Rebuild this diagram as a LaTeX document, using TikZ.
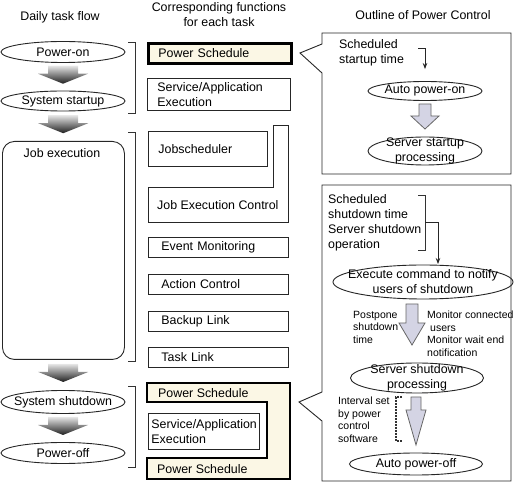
\documentclass[tikz,border=0pt]{standalone}
\usepackage{fontspec}
\setmainfont{Liberation Sans}
\usetikzlibrary{calc,shapes.geometric,arrows.meta}
\definecolor{cream}{RGB}{251,247,229}
\definecolor{blkfill}{RGB}{212,212,228}
\newcommand\blkarrow[6]{%
  \draw[blkst] (#1-#5,#2) -- (#1+#5,#2) -- (#1+#5,#3) -- (#1+#6,#3) -- (#1,#4) -- (#1-#6,#3) -- (#1-#5,#3) -- cycle;}
\newcommand\gradarrow[2]{%
  \shade[top color=black!10, bottom color=black!88]
    ($(#1.south)!.5!(#2.north)+(-15,-11)$) -- ($(#1.south)!.5!(#2.north)+(15,-11)$) --
    ($(#1.south)!.5!(#2.north)+(15,-3)$) -- ($(#1.south)!.5!(#2.north)+(25,-3)$) --
    ($(#1.south)!.5!(#2.north)+(0,7)$) -- ($(#1.south)!.5!(#2.north)+(-25,-3)$) --
    ($(#1.south)!.5!(#2.north)+(-15,-3)$) -- cycle;}
\begin{document}
\begin{tikzpicture}[x=1pt,y=-1pt,
  font=\fontsize{12.4}{15}\selectfont,
  ell/.style={draw=black!85, ellipse, line width=0.9pt, inner sep=0pt},
  fbox/.style={draw=black!85, line width=0.9pt, anchor=north west, align=left, inner xsep=10pt, inner ysep=0pt},
  thickbox/.style={draw=black, line width=2.8pt, fill=cream},
  brk/.style={draw=black!80, line width=0.9pt},
  txt/.style={inner sep=0pt, align=left, anchor=north west},
  small/.style={font=\fontsize{10.5}{12.5}\selectfont},
  callout/.style={draw=black!85, line width=0.9pt, fill=white},
  blkst/.style={draw=black!60, line width=0.8pt, fill=blkfill},
  arr/.style={draw=black!85, line width=0.8pt, -{Stealth[length=6pt,width=4.5pt]}}]
\useasboundingbox (0,0) rectangle (515,486);

% headers
\node (h1) at (60,17) {Daily task flow};
\node[align=center] (h2) at (219,15) {Corresponding functions\\for each task};
\node (h3) at (423,15) {Outline of Power Control};

% left column
\node[ell, minimum width=124pt, minimum height=21pt] (po) at (63,52) {};
\node at (po) {Power-on};
\node[ell, minimum width=124pt, minimum height=20pt] (ss) at (63,101) {};
\node at (ss) {System startup};
\node[draw=black!85, line width=0.9pt, rounded corners=12pt, minimum width=122pt, minimum height=218pt, anchor=north west, inner sep=0pt] (je) at (2,141) {};
\node at (62,153) {Job execution};
\node[ell, minimum width=124pt, minimum height=23pt] (sd) at (63,402) {};
\node at (sd) {System shutdown};
\node[ell, minimum width=124pt, minimum height=21pt] (pf) at (63,453) {};
\node at (pf) {Power-off};
\gradarrow{po}{ss}
\gradarrow{ss}{je}
\gradarrow{je}{sd}
\gradarrow{sd}{pf}

% brackets
\draw[brk] (128,42) -- (135,42) -- (135,113) -- (128,113);
\draw[brk] (128,132) -- (135,132) -- (135,361) -- (128,361);
\draw[brk] (128,386) -- (135,386) -- (135,467) -- (128,467);

% middle column
\node[fbox, thickbox, text width=123pt, minimum height=20pt] (ps1) at (147,42) {Power Schedule};
\node[fbox, text width=123pt, minimum height=32pt] (sa1) at (147,78) {Service/Application\\Execution};
\node[fbox, text width=99pt, minimum height=35pt] (js) at (148,131) {Jobscheduler};
\draw[draw=black!85, line width=0.9pt] (148,187) -- (273,187) -- (273,125) -- (288,125) -- (288,222) -- (148,222) -- cycle;
\node[anchor=west, inner sep=0pt] (jec) at (157,205) {Job Execution Control};
\node[fbox, inner xsep=13pt, text width=114pt, minimum height=20pt] (em) at (148,237) {Event Monitoring};
\node[fbox, inner xsep=13pt, text width=114pt, minimum height=20pt] (ac) at (148,274) {Action Control};
\node[fbox, inner xsep=13pt, text width=114pt, minimum height=20pt] (bl) at (148,311) {Backup Link};
\node[fbox, inner xsep=13pt, text width=114pt, minimum height=20pt] (tl) at (148,347) {Task Link};

% bottom power schedule
\draw[thickbox] (147,383) -- (290,383) -- (290,479) -- (147,479) -- (147,458) -- (267,458) -- (267,402) -- (147,402) -- cycle;
\node[anchor=west, inner sep=0pt] (ps2) at (158,393) {Power Schedule};
\node[anchor=west, inner sep=0pt] (ps3) at (157,469) {Power Schedule};
\node[fbox, inner xsep=3pt, text width=105pt, minimum height=36pt] (sa2) at (148,413) {Service/Application\\Execution};

% top callout
\draw[callout] (322,33) -- (511,33) -- (511,174) -- (322,174) -- (322,73) -- (300,53) -- (322,44) -- cycle;
\node[txt] (sst) at (339,39) {Scheduled\\startup time};
\node[ell, minimum width=114pt, minimum height=19pt] (ap) at (425,91) {};
\node at (ap) {Auto power-on};
\node[ell, minimum width=114pt, minimum height=28pt] (sp) at (425,151) {};
\node[align=center] at (sp) {Server startup\\processing};
\coordinate (c1) at (418,48);
\draw[arr, shorten >=12pt] (c1) -| (ap.north);
\blkarrow{425}{104}{116}{129}{6}{14}

% lower callout
\draw[callout] (322,185) -- (511,185) -- (511,481) -- (322,481) -- (322,421) -- (299,402) -- (322,392) -- cycle;
\node[txt] (sdt) at (328,194) {Scheduled\\shutdown time\\Server shutdown\\operation};
\draw[brk] (418,195) -- (425,195) -- (425,250) -- (418,250);
\node[ell, minimum width=180pt, minimum height=34pt] (ex) at (423,282) {};
\node[align=center] at (ex) {Execute command to notify\\users of shutdown};
\coordinate (c2s) at (425,222);
\coordinate (c2e) at (438,264);
\draw[arr] (c2s) -| (c2e);
\node[txt, small] (pp) at (353,311) {Postpone\\shutdown\\time};
\node[txt, small] (mc) at (427,311) {Monitor connected\\\hspace{3pt}users\\Monitor wait end\\notification};
\blkarrow{412}{304}{323}{345}{6}{13}
\node[ell, minimum width=133pt, minimum height=30pt] (shp) at (417,378) {};
\node[align=center] at (shp) {Server shutdown\\processing};
\node[txt, small] (iv) at (338,397) {Interval set\\by power\\control\\software};
\draw[line width=1.6pt, dash pattern=on 1.6pt off 1.4pt, black!80] (402,397) -- (396,397) -- (396,441) -- (402,441);
\blkarrow{416}{397}{410}{445}{5}{10}
\node[ell, minimum width=133pt, minimum height=22pt] (apf) at (416,464) {};
\node at (apf) {Auto power-off};
\end{tikzpicture}
\end{document}
